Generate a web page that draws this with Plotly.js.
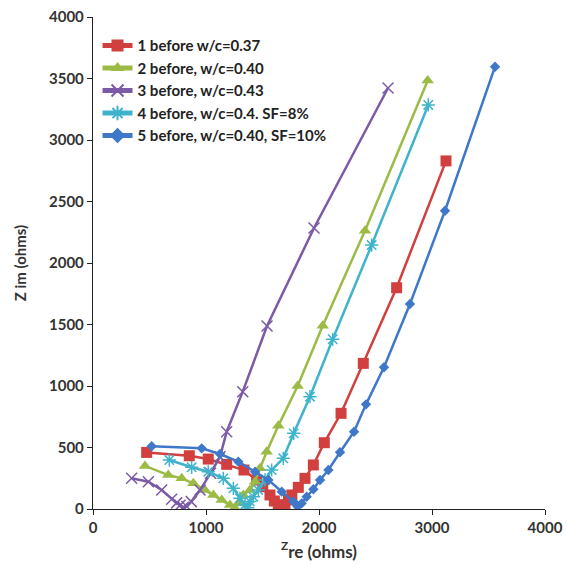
<!DOCTYPE html>
<html>
<head>
<meta charset="utf-8">
<script src="https://cdn.plot.ly/plotly-3.0.1.min.js"></script>
<style>html,body{margin:0;padding:0;background:#fff;}#chart{width:567px;height:578px;}</style>
</head>
<body>
<div id="chart"></div>
<script>
var names = ["1 before w/c=0.37", "2 before, w/c=0.40", "3 before, w/c=0.43", "4 before, w/c=0.4. SF=8%", "5 before, w/c=0.40, SF=10%"];

var s1x = [475, 852, 1020, 1183, 1336, 1448, 1502, 1566, 1605, 1640, 1670, 1699, 1730, 1760, 1817, 1876, 1950, 2047, 2195, 2392, 2687, 3124];
var s1y = [460, 433, 406, 363, 317, 236, 181, 114, 65, 35, 20, 30, 75, 114, 176, 249, 358, 539, 778, 1184, 1799, 2830];

var s2x = [460, 666, 785, 888, 991, 1065, 1139, 1212, 1255, 1286, 1330, 1389, 1434, 1478, 1537, 1640, 1811, 2033, 2407, 2962];
var s2y = [350, 276, 249, 209, 154, 114, 73, 33, 8, 46, 114, 154, 222, 331, 466, 676, 1000, 1490, 2263, 3483];

var s3x = [342, 490, 608, 696, 740, 770, 800, 830, 870, 947, 1040, 1124, 1183, 1325, 1540, 1956, 2611];
var s3y = [250, 222, 154, 80, 50, 30, 15, 20, 60, 154, 290, 425, 628, 954, 1488, 2285, 3423];

var s4x = [675, 873, 1020, 1153, 1242, 1301, 1345, 1370, 1389, 1419, 1463, 1522, 1581, 1684, 1776, 1920, 2121, 2466, 2967];
var s4y = [398, 339, 303, 249, 168, 87, 33, 10, 60, 100, 154, 236, 317, 412, 615, 913, 1380, 2146, 3285];

var s5x = [519, 962, 1124, 1286, 1434, 1552, 1670, 1773, 1810, 1847, 1891, 1950, 2009, 2083, 2186, 2310, 2416, 2575, 2805, 3115, 3558];
var s5y = [510, 493, 447, 385, 303, 236, 141, 60, 20, 46, 100, 160, 236, 317, 461, 628, 851, 1152, 1667, 2425, 3596];

var xTicks = [0, 1000, 2000, 3000, 4000];
var yTicks = [0, 500, 1000, 1500, 2000, 2500, 3000, 3500, 4000];

var colors = ["#D13F3F", "#9BBB45", "#7B5AA6", "#3FB3CC", "#3F78C8"];
var symbols = ["square", "triangle-up", "x-thin-open", "asterisk-open", "diamond"];
var sizes = [11, 11, 11, 11, 8];
var xs = [s1x, s2x, s3x, s4x, s5x];
var ys = [s1y, s2y, s3y, s4y, s5y];

var traces = [];
for (var i = 0; i < 5; i++) {
  traces.push({
    x: xs[i], y: ys[i], name: names[i], type: "scatter", mode: "lines+markers",
    line: {color: colors[i], width: 2.5},
    marker: {symbol: symbols[i], size: sizes[i], color: colors[i], line: {color: colors[i], width: (i === 2 || i === 3) ? 1.5 : 0}}
  });
}

var layout = {
  width: 567, height: 578,
  margin: {l: 93, r: 22, t: 17, b: 69},
  paper_bgcolor: "#fff", plot_bgcolor: "#fff",
  font: {family: "Lato, 'Open Sans', sans-serif", color: "#333", size: 15, weight: "bold"},
  showlegend: true,
  legend: {x: 0.01, y: 0.975, xanchor: "left", yanchor: "top", bgcolor: "rgba(255,255,255,0)",
           font: {family: "Lato, sans-serif", size: 15, color: "#222", weight: "bold"}, tracegroupgap: 0, itemsizing: "constant"},
  xaxis: {
    range: [0, 4000], tickvals: xTicks, ticktext: xTicks.map(String), showgrid: false, zeroline: false,
    showline: true, linecolor: "#222", linewidth: 1.2, ticks: "outside", ticklen: 5, tickcolor: "#222",
    tickfont: {size: 15, color: "#333", weight: "bold"},
    title: {text: "<sup>Z</sup>re (ohms)", font: {size: 17, color: "#333", weight: "bold"}, standoff: 10}
  },
  yaxis: {
    range: [0, 4000], tickvals: yTicks, ticktext: yTicks.map(String), showgrid: false, zeroline: false,
    showline: true, linecolor: "#222", linewidth: 1.2, ticks: "outside", ticklen: 5, tickcolor: "#222",
    tickfont: {size: 15, color: "#333", weight: "bold"},
    title: {text: "Z im (ohms)", font: {size: 15, color: "#333", weight: "bold"}, standoff: 18}
  }
};

Plotly.newPlot("chart", traces, layout, {displayModeBar: false, staticPlot: true});
</script>
</body>
</html>
